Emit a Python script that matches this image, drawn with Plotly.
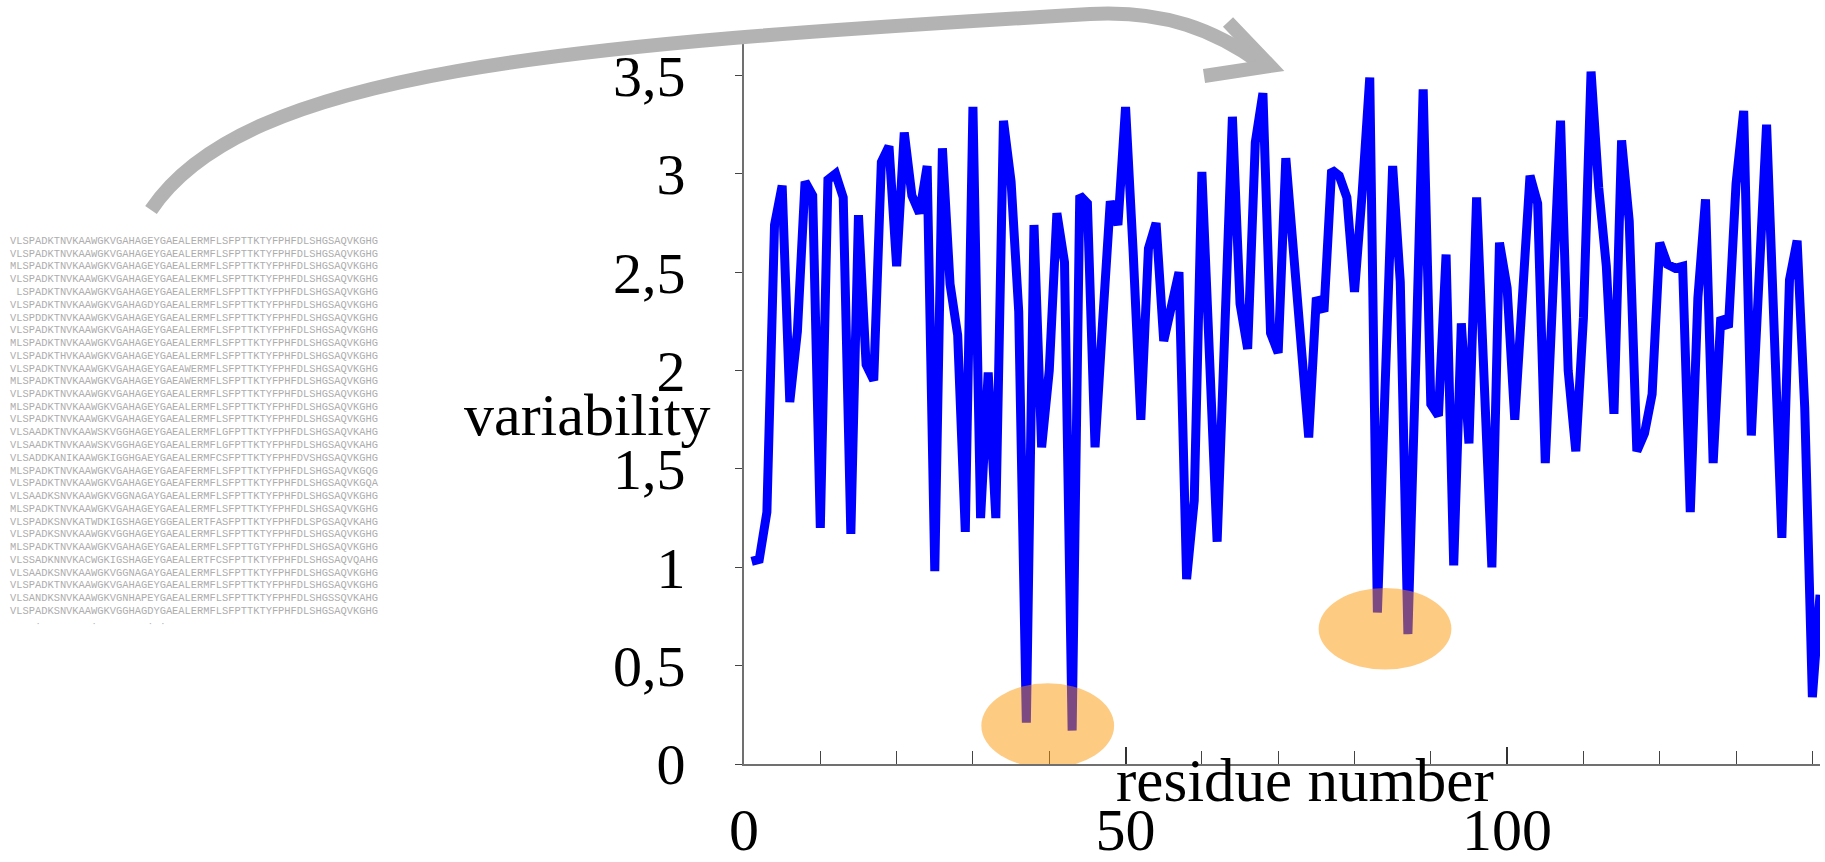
import plotly.graph_objects as go

W, H = 1825, 862

# ---------------- data ----------------
residues = list(range(1, 142))
variability = [
    1.03, 1.04, 1.28, 2.74, 2.94, 1.84, 2.20, 2.96, 2.89, 1.20,
    2.97, 3.00, 2.88, 1.17, 2.79, 2.03, 1.95, 3.06, 3.14, 2.53,
    3.21, 2.89, 2.80, 3.04, 0.98, 3.13, 2.44, 2.18, 1.18, 3.34,
    1.25, 1.99, 1.25, 3.27, 2.96, 2.30, 0.21, 2.74, 1.61, 2.00,
    2.80, 2.55, 0.17, 2.89, 2.85, 1.61, 2.25, 2.86, 2.74, 3.34,
    2.60, 1.75, 2.62, 2.75, 2.15, 2.32, 2.50, 0.94, 1.34, 3.01,
    2.10, 1.13, 2.20, 3.29, 2.34, 2.11, 3.16, 3.41, 2.19, 2.09,
    3.08, 2.60, 2.15, 1.66, 2.37, 2.30, 3.02, 2.99, 2.88, 2.40,
    2.90, 3.49, 0.77, 1.90, 3.04, 2.45, 0.66, 2.00, 3.43, 1.83,
    1.77, 2.59, 1.01, 2.24, 1.63, 2.88, 1.95, 1.00, 2.65, 2.42,
    1.75, 2.35, 2.99, 2.85, 1.53, 2.40, 3.27, 2.00, 1.59, 2.27,
    3.52, 2.93, 2.53, 1.78, 3.17, 2.76, 1.59, 1.68, 1.88, 2.65,
    2.54, 2.52, 2.53, 1.28, 2.37, 2.87, 1.53, 2.27, 2.22, 2.95,
    3.32, 1.67, 2.45, 3.25, 2.20, 1.15, 2.46, 2.66, 1.81, 0.34,
    0.86,
]

y_tickvals = [0, 0.5, 1, 1.5, 2, 2.5, 3, 3.5]
y_ticktext = ["0", "0,5", "1", "1,5", "2", "2,5", "3", "3,5"]

sequences = [
    "VLSPADKTNVKAAWGKVGAHAGEYGAEALERMFLSFPTTKTYFPHFDLSHGSAQVKGHG",
    "VLSPADKTNVKAAWGKVGAHAGEYGAEALERMFLSFPTTKTYFPHFDLSHGSAQVKGHG",
    "MLSPADKTNVKAAWGKVGAHAGEYGAEALERMFLSFPTTKTYFPHFDLSHGSAQVKGHG",
    "VLSPADKTNVKAAWGKVGAHAGEYGAEALEKMFLSFPTTKTYFPHFDLSHGSAQVKGHG",
    "\u00a0LSPADKTNVKAAWGKVGAHAGEYGAEALERMFLSFPTTKTYFPHFDLSHGSAQVKGHG",
    "VLSPADKTNVKAAWGKVGAHAGDYGAEALERMFLSFPTTKTYFPHFDLSHGSAQVKGHG",
    "VLSPDDKTNVKAAWGKVGAHAGEYGAEALERMFLSFPTTKTYFPHFDLSHGSAQVKGHG",
    "VLSPADKTNVKAAWGKVGAHAGEYGAEALERMFLSFPTTKTYFPHFDLSHGSAQVKGHG",
    "MLSPADKTNVKAAWGKVGAHAGEYGAEALERMFLSFPTTKTYFPHFDLSHGSAQVKGHG",
    "VLSPADKTHVKAAWGKVGAHAGEYGAEALERMFLSFPTTKTYFPHFDLSHGSAQVKGHG",
    "VLSPADKTNVKAAWGKVGAHAGEYGAEAWERMFLSFPTTKTYFPHFDLSHGSAQVKGHG",
    "MLSPADKTNVKAAWGKVGAHAGEYGAEAWERMFLSFPTTKTYFPHFDLSHGSAQVKGHG",
    "VLSPADKTNVKAAWGKVGAHAGEYGAEALERMFLSFPTTKTYFPHFDLSHGSAQVKGHG",
    "MLSPADKTNVKAAWGKVGAHAGEYGAEALERMFLSFPTTKTYFPHFDLSHGSAQVKGHG",
    "VLSPADKTNVKAAWGKVGAHAGEYGAEALERMFLSFPTTKTYFPHFDLSHGSAQVKGHG",
    "VLSAADKTNVKAAWSKVGGHAGEYGAEALERMFLGFPTTKTYFPHFDLSHGSAQVKAHG",
    "VLSAADKTNVKAAWSKVGGHAGEYGAEALERMFLGFPTTKTYFPHFDLSHGSAQVKAHG",
    "VLSADDKANIKAAWGKIGGHGAEYGAEALERMFCSFPTTKTYFPHFDVSHGSAQVKGHG",
    "MLSPADKTNVKAAWGKVGAHAGEYGAEAFERMFLSFPTTKTYFPHFDLSHGSAQVKGQG",
    "VLSPADKTNVKAAWGKVGAHAGEYGAEAFERMFLSFPTTKTYFPHFDLSHGSAQVKGQA",
    "VLSAADKSNVKAAWGKVGGNAGAYGAEALERMFLSFPTTKTYFPHFDLSHGSAQVKGHG",
    "MLSPADKTNVKAAWGKVGAHAGEYGAEALERMFLSFPTTKTYFPHFDLSHGSAQVKGHG",
    "VLSPADKSNVKATWDKIGSHAGEYGGEALERTFASFPTTKTYFPHFDLSPGSAQVKAHG",
    "VLSPADKSNVKAAWGKVGGHAGEYGAEALERMFLSFPTTKTYFPHFDLSHGSAQVKGHG",
    "MLSPADKTNVKAAWGKVGAHAGEYGAEALERMFLSFPTTGTYFPHFDLSHGSAQVKGHG",
    "VLSSADKNNVKACWGKIGSHAGEYGAEALERTFCSFPTTKTYFPHFDLSHGSAQVQAHG",
    "VLSAADKSNVKAAWGKVGGNAGAYGAEALERMFLSFPTTKTYFPHFDLSHGSAQVKGHG",
    "VLSPADKTNVKAAWGKVGAHAGEYGAEALERMFLSFPTTKTYFPHFDLSHGSAQVKGHG",
    "VLSANDKSNVKAAWGKVGNHAPEYGAEALERMFLSFPTTKTYFPHFDLSHGSSQVKAHG",
    "VLSPADKSNVKAAWGKVGGHAGDYGAEALERMFLSFPTTKTYFPHFDLSHGSAQVKGHG",
]
conservation = "\u00a0" * 4 + "\u02d9" + "\u00a0" * 8 + "\u02d9" + "\u00a0" * 8 + "\u02d9" + "\u00a0" + "\u02d9"

# highlighted regions (residue range, variability range)
highlights = [((31.1, 48.5), (-0.02, 0.41)), ((75.3, 92.7), (0.48, 0.895))]

# ---------------- layout helpers ----------------
def px(x, y):
    return x / W, 1 - y / H

FONT = "Liberation Serif"
AX_COLOR = "#707070"

fig = go.Figure()
fig.add_trace(go.Scatter(
    x=residues, y=variability, mode="lines",
    line=dict(color="#0000ff", width=9),
    hoverinfo="skip", showlegend=False,
))

fig.update_layout(
    width=W, height=H,
    margin=dict(l=0, r=0, t=0, b=0),
    paper_bgcolor="white", plot_bgcolor="white",
    showlegend=False,
    xaxis=dict(
        domain=[744 / W, 1820 / W], range=[0, 141], automargin=False,
        showgrid=False, zeroline=False, showline=True,
        linecolor=AX_COLOR, linewidth=2,
        tickmode="linear", tick0=0, dtick=50,
        ticks="inside", ticklen=17, tickwidth=1.5, tickcolor="#333",
        minor=dict(dtick=10, tick0=0, ticks="inside", ticklen=13,
                   tickwidth=1.2, tickcolor="#444"),
        tickfont=dict(family=FONT, size=60, color="black"),
        ticklabelstandoff=12,
    ),
    yaxis=dict(
        domain=[(H - 764) / H, (H - 44) / H], range=[0, 3.66], automargin=False,
        showgrid=False, zeroline=False, showline=True,
        linecolor=AX_COLOR, linewidth=2,
        tickmode="array", tickvals=y_tickvals, ticktext=y_ticktext,
        ticks="outside", ticklen=7, tickwidth=1.2, tickcolor="#444",
        tickfont=dict(family=FONT, size=58, color="black"),
        ticklabelstandoff=38,
    ),
)

# axis titles
ax, ay = px(1305, 780)
fig.add_annotation(text="residue number", x=ax, y=ay, xref="paper", yref="paper",
                   xanchor="center", yanchor="middle", showarrow=False,
                   font=dict(family=FONT, size=61, color="black"))
ax, ay = px(713, 415)
fig.add_annotation(text="variability", x=ax, y=ay, xref="paper", yref="paper",
                   xanchor="right", yanchor="middle", showarrow=False,
                   font=dict(family=FONT, size=60, color="black"))

# sequence alignment block
for i, s in enumerate(sequences):
    sx, sy = px(8, 241 + 12.75 * i)
    fig.add_annotation(text=s, x=sx, y=sy, xref="paper", yref="paper",
                       xanchor="left", yanchor="middle", showarrow=False,
                       font=dict(family="Liberation Mono", size=10.4, color="#adadad"))
sx, sy = px(8, 628)
fig.add_annotation(text=conservation, x=sx, y=sy, xref="paper", yref="paper",
                   xanchor="left", yanchor="middle", showarrow=False,
                   font=dict(family="Liberation Mono", size=10.4, color="#adadad"))

# highlight ellipses
for (xr, yr) in highlights:
    fig.add_shape(type="circle", xref="x", yref="y",
                  x0=xr[0], x1=xr[1], y0=yr[0], y1=yr[1],
                  fillcolor="rgba(253,149,0,0.49)", line=dict(width=0),
                  layer="above")

# curved gray arrow
def path(cmds):
    out = []
    for c in cmds:
        if isinstance(c, str):
            out.append(c)
        else:
            x, y = px(*c)
            out.append(f"{x:.5f},{y:.5f}")
    return " ".join(out)

arrow_curve = path(["M", (151, 210), "C", (245, 70), (560, 45), (1090, 14),
                    "C", (1165, 10), (1215, 30), (1262, 64)])
fig.add_shape(type="path", xref="paper", yref="paper", path=arrow_curve,
              line=dict(color="#b3b3b3", width=14), layer="above")
arrow_head = path(["M", (1228, 22), "L", (1270, 66), "L", (1204, 76)])
fig.add_shape(type="path", xref="paper", yref="paper", path=arrow_head,
              line=dict(color="#b3b3b3", width=14), layer="above")

fig.write_html("out.html")
